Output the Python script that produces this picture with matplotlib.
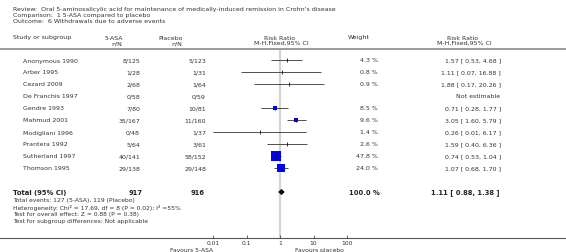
import matplotlib
matplotlib.use("Agg")
import matplotlib.pyplot as plt
import matplotlib.transforms as mtransforms
from matplotlib.lines import Line2D
import numpy as np

# ---------------- data ----------------
title_lines = [
    "Review:  Oral 5-aminosalicylic acid for maintenance of medically-induced remission in Crohn's disease",
    "Comparison:  1 5-ASA compared to placebo",
    "Outcome:  6 Withdrawals due to adverse events",
]
studies = ["Anonymous 1990", "Arber 1995", "Cezard 2009", "De Franchis 1997", "Gendre 1993",
           "Mahmud 2001", "Modigliani 1996", "Prantera 1992", "Sutherland 1997", "Thomson 1995"]
asa_events = [8, 1, 2, 0, 7, 35, 0, 5, 40, 29]
asa_total = [125, 28, 68, 58, 80, 167, 48, 64, 141, 138]
pla_events = [5, 1, 1, 0, 10, 11, 1, 3, 58, 29]
pla_total = [123, 31, 64, 59, 81, 160, 37, 61, 152, 148]
weights = [4.3, 0.8, 0.9, None, 8.5, 9.6, 1.4, 2.6, 47.8, 24.0]
rr = [1.57, 1.11, 1.88, None, 0.71, 3.05, 0.26, 1.59, 0.74, 1.07]
rr_lo = [0.53, 0.07, 0.17, None, 0.28, 1.60, 0.01, 0.40, 0.53, 0.68]
rr_hi = [4.68, 16.88, 20.26, None, 1.77, 5.79, 6.17, 6.36, 1.04, 1.70]
total_asa, total_pla = 917, 916
total_weight = 100.0
total_rr, total_lo, total_hi = 1.11, 0.88, 1.38
footnotes = [
    "Total events: 127 (5-ASA), 119 (Placebo)",
    "Heterogeneity: Chi\u00b2 = 17.69, df = 8 (P = 0.02); I\u00b2 =55%",
    "Test for overall effect: Z = 0.88 (P = 0.38)",
    "Test for subgroup differences: Not applicable",
]
tick_values = [0.01, 0.1, 1, 10, 100]
tick_labels = ["0.01", "0.1", "1", "10", "100"]
favours_left = "Favours 5-ASA"
favours_right = "Favours placebo"

# ---------------- layout ----------------
W, H = 566, 253
fig = plt.figure(figsize=(W / 100, H / 100), dpi=100)
fig.patch.set_facecolor("white")
plt.rcParams["font.family"] = ["DejaVu Sans"]
TXT = "#333333"
FS = 4.5

row0_pix, row_h = 61.0, 12.0
ax_top, ax_bot = 50.0, 239.0
ax = fig.add_axes([213 / W, 1 - ax_bot / H, (347 - 213) / W, (ax_bot - ax_top) / H])
ax.set_xscale("log")
ax.set_xlim(0.01, 100)
ax.set_ylim((ax_bot - row0_pix) / row_h, (ax_top - row0_pix) / row_h)
ax.patch.set_alpha(0)
for s in ax.spines.values():
    s.set_visible(False)
ax.set_yticks([])
ax.set_xticks(tick_values)
ax.set_xticklabels(tick_labels)
ax.minorticks_off()
ax.tick_params(axis="x", direction="in", length=2.5, width=0.6, color="#444444",
               labelsize=4.3, labelcolor=TXT, pad=1.5)

ax.axvline(1, color="#d4d4d4", lw=1.6, zorder=0)

blend = mtransforms.blended_transform_factory(fig.transFigure, ax.transData)

def ptext(xpix, ypix, s, **kw):
    kw.setdefault("fontsize", FS)
    kw.setdefault("color", TXT)
    kw.setdefault("va", "center")
    fig.text(xpix / W, 1 - ypix / H, s, **kw)

def rtext(xpix, row, s, **kw):
    kw.setdefault("fontsize", FS)
    kw.setdefault("color", TXT)
    kw.setdefault("va", "center")
    fig.text(xpix / W, row, s, transform=blend, **kw)

# title block
for i, t in enumerate(title_lines):
    ptext(13, 9.8 + 5.7 * i, t, ha="left")

# headers
ptext(13, 38, "Study or subgroup", ha="left")
ptext(123, 38, "5-ASA", ha="right")
ptext(122, 43.5, "n/N", ha="right")
ptext(183, 38, "Placebo", ha="right")
ptext(182, 43.5, "n/N", ha="right")
ptext(280, 38, "Risk Ratio", ha="center")
ptext(281, 43.5, "M-H,Fixed,95% CI", ha="center")
ptext(370, 38, "Weight", ha="right")
ptext(463, 38, "Risk Ratio", ha="center")
ptext(464, 43.5, "M-H,Fixed,95% CI", ha="center")

fig.add_artist(Line2D([0, 1], [1 - 49.5 / H] * 2, transform=fig.transFigure,
                      color="#9a9a9a", lw=1.4))
fig.add_artist(Line2D([0, 1], [1 - ax_bot / H] * 2, transform=fig.transFigure,
                      color="#555555", lw=0.8))

# study rows
for i, name in enumerate(studies):
    rtext(23, i, name, ha="left")
    rtext(140, i, f"{asa_events[i]}/{asa_total[i]}", ha="right")
    rtext(206, i, f"{pla_events[i]}/{pla_total[i]}", ha="right")
    if rr[i] is None:
        rtext(500, i, "Not estimable", ha="right")
        continue
    rtext(378, i, f"{weights[i]:.1f} %", ha="right")
    rtext(501, i, f"{rr[i]:.2f} [ {rr_lo[i]:.2f}, {rr_hi[i]:.2f} ]", ha="right")
    ax.plot([rr_lo[i], rr_hi[i]], [i, i], color="#333333", lw=0.6, zorder=2,
            solid_capstyle="butt")
    if weights[i] >= 5:
        side_px = 10 * np.sqrt(weights[i] / 47.8)
        ax.plot([rr[i]], [i], marker="s", ms=side_px * 0.72, color="#0000ee",
                mec="#0000ee", mew=0, zorder=3, ls="none")
    ax.plot([rr[i]], [i], marker="|", ms=2.4, mew=0.6, color="#111111", zorder=4, ls="none")

# total row
trow = 11
rtext(13, trow, "Total (95% CI)", ha="left", fontweight="bold", fontsize=4.9, color="#222222")
rtext(143, trow, f"{total_asa}", ha="right", fontweight="bold", fontsize=4.9, color="#222222")
rtext(205, trow, f"{total_pla}", ha="right", fontweight="bold", fontsize=4.9, color="#222222")
rtext(380, trow, f"{total_weight:.1f} %", ha="right", fontweight="bold", fontsize=4.9, color="#222222")
rtext(500, trow, f"{total_rr:.2f} [ {total_lo:.2f}, {total_hi:.2f} ]", ha="right",
      fontweight="bold", fontsize=4.9, color="#222222")
dh = 0.25
ax.fill([total_lo, total_rr, total_hi, total_rr], [trow, trow - dh, trow, trow + dh],
        color="black", lw=0, zorder=4)

for i, t in enumerate(footnotes):
    ptext(13, 201 + 6.7 * i, t, ha="left", fontsize=4.3)

ptext(213, 251, favours_left, ha="right", fontsize=4.3)
ptext(295, 251, favours_right, ha="left", fontsize=4.3)

fig.savefig("out.png", dpi=100, facecolor="white")
